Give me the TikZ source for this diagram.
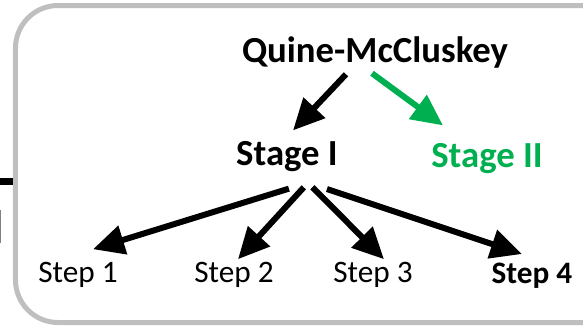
\documentclass[tikz,border=0pt]{standalone}
\usepackage{fontspec}
\setmainfont{Carlito}
\usetikzlibrary{arrows.meta,calc}
\definecolor{qgreen}{RGB}{0,176,80}
\definecolor{framegray}{RGB}{191,191,191}

\begin{document}
\begin{tikzpicture}[x=0.4pt,y=-0.4pt]
  \tikzstyle{big}=[inner sep=0pt,anchor=base,font=\fontsize{14.7}{17}\selectfont\bfseries]
  \tikzstyle{small}=[inner sep=0pt,anchor=base,font=\fontsize{12.5}{15}\selectfont]
  \tikzstyle{f}=[-{Triangle[length=12.5pt,width=11.5pt]},line width=2.4pt]
  \clip (0,0) rectangle (583,329);

  % -- frame and the bits of the neighbour picture --
  \draw[framegray,line width=2pt,rounded corners=17pt] (15.5,5.5) rectangle (650,322.5);
  \draw[line width=2.8pt] (0,181.5) -- (13,181.5);
  \draw[gray,line width=0.8pt] (0.4,210) -- (0.4,243);

  % -- method and its stages --
  \node[big] (qmc) at (375,62) {Quine-McCluskey};
  \node[big] (stI) at (287,165) {Stage I};
  \node[big,text=qgreen] (stII) at (487,167) {Stage II};
  \draw[f] ($(qmc.south)+(-29,6)$) -- ($(stI.north)+(6,-10)$);
  \draw[f,qgreen] ($(qmc.south)+(-3,5)$) -- ($(stII.north)+(-44,-17)$);

  % -- steps of stage I --
  \node[small] (s1) at (78,282) {Step 1};
  \node[small] (s2) at (234,282) {Step 2};
  \node[small] (s3) at (373,282) {Step 3};
  \node[small,font=\fontsize{12.5}{15}\selectfont\bfseries] (s4) at (532,283) {Step 4};
  \coordinate (fork) at ($(stI.south)+(21,11)$);
  \draw[f,shorten <=8pt] (fork) -- ($(s1.north)+(15,-12)$);
  \draw[f,shorten <=2.5pt] (fork) -- ($(s2.north)+(4,-2)$);
  \draw[f,shorten <=2.5pt] (fork) -- ($(s3.north)+(11,-2)$);
  \draw[f,shorten <=8pt] (fork) -- ($(s4.north)+(-10,-8)$);
\end{tikzpicture}
\end{document}
